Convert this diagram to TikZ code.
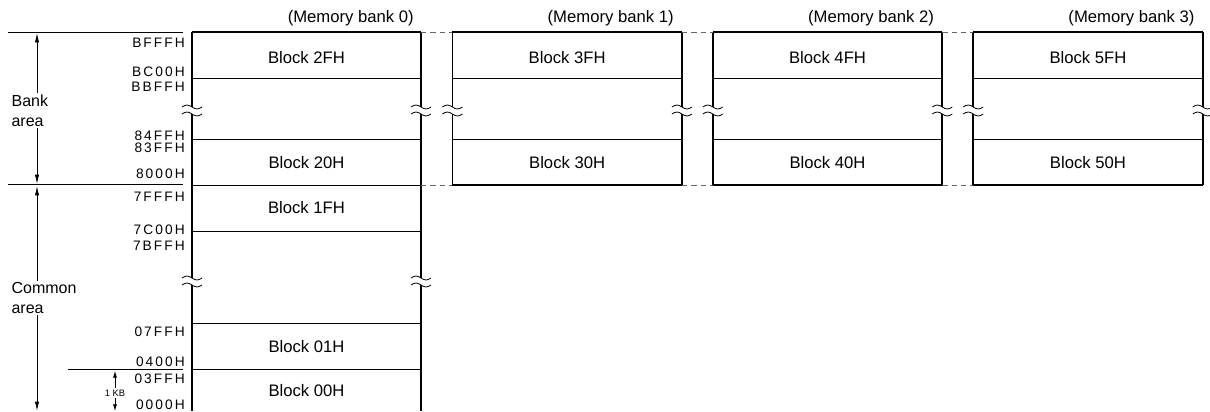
\documentclass[tikz,border=0pt]{standalone}
\usepackage{fontspec}
\setmainfont{Liberation Sans}
\newfontfamily\addrfont[LetterSpace=15]{Liberation Sans}
\usetikzlibrary{arrows.meta, positioning}

\tikzset{
    bankline/.style = {line width=1.3pt},
    rowline/.style = {line width=0.6pt},
    gapline/.style = {line width=0.7pt, dash pattern=on 4pt off 3pt, black!60},
    dimarrow/.style = {line width=0.6pt,
        {Latex[length=7pt,width=3.2pt]}-{Latex[length=7pt,width=3.2pt]}},
    blocklabel/.style = {inner sep=0pt, font=\fontsize{12.5}{14}\selectfont},
    banklabel/.style = {anchor=east, inner sep=0pt, font=\fontsize{12.5}{14}\selectfont},
    addr/.style = {anchor=east, inner sep=0pt, font=\addrfont\fontsize{10.3}{11}\selectfont},
    arealabel/.style = {anchor=west, fill=white, align=left, inner sep=1pt,
        font=\fontsize{12}{15}\selectfont},
    cut/.pic = {
        \draw[rowline] (-10,-3.5) sin (-5,-5.5) cos (0,-3.5) sin (5,-1.5) cos (10,-3.5)
                       (-10,3.5) sin (-5,1.5) cos (0,3.5) sin (5,5.5) cos (10,3.5);
    }
}

\begin{document}
\begin{tikzpicture}[x=0.75pt, y=-0.75pt]
    \useasboundingbox (0,0) rectangle (1210,411);

    % Bank 0 (bank area + common area)
    \coordinate (nw0) at (192,32);
    \coordinate (ne0) at (421,32);
    \coordinate (sw0) at (192,185);
    \coordinate (se0) at (421,185);
    \draw[bankline] (nw0) -- (ne0);
    \foreach \x in {192,421} {
        \draw[bankline] (\x,32) -- (\x,107) (\x,114) -- (\x,278) (\x,285) -- (\x,411);
        \pic at (\x,110.5) {cut};
        \pic at (\x,281.5) {cut};
    }
    \foreach \y in {78,139,185,231,323,369}
        \draw[rowline] (192,\y) -- (421,\y);
    \node (blk2F) [blocklabel] at (306.5,58) {Block 2FH};
    \node (blk20) [blocklabel] at (306.5,163) {Block 20H};
    \node (blk1F) [blocklabel] at (306.5,208) {Block 1FH};
    \node (blk01) [blocklabel] at (306.5,347) {Block 01H};
    \node (blk00) [blocklabel] at (306.5,391) {Block 00H};
    \node (hdr0) [banklabel] at (414,18) {(Memory bank 0)};

    % Banks 1 to 3
    \foreach \i/\hi/\lo in {1/3F/30, 2/4F/40, 3/5F/50} {
        \pgfmathsetmacro\xl{192+260.4*\i}
        \pgfmathsetmacro\xr{\xl+229.5}
        \coordinate (nw\i) at (\xl,32);
        \coordinate (ne\i) at (\xr,32);
        \coordinate (sw\i) at (\xl,185);
        \coordinate (se\i) at (\xr,185);
        \draw[bankline] (nw\i) -- (ne\i) (sw\i) -- (se\i);
        \foreach \x in {\xl,\xr} {
            \draw[bankline] (\x,32) -- (\x,107) (\x,114) -- (\x,185);
            \pic at (\x,110.5) {cut};
        }
        \draw[rowline] (\xl,78) -- (\xr,78) (\xl,139) -- (\xr,139);
        \node (blk\hi) [blocklabel] at ({(\xl+\xr)/2},58) {Block \hi H};
        \node (blk\lo) [blocklabel] at ({(\xl+\xr)/2},163) {Block \lo H};
        \node (hdr\i) [banklabel] at (\xr-8,18) {(Memory bank \i)};
    }

    % Dashed joins between banks
    \foreach \i/\j in {0/1, 1/2, 2/3}
        \draw[gapline] (ne\i) -- (nw\j) (se\i) -- (sw\j);

    % Addresses
    \foreach \y/\a in {43/BFFF, 72/BC00, 87/BBFF, 135.5/84FF, 148/83FF, 174/8000,
                       197/7FFF, 230/7C00, 246/7BFF, 332/07FF, 362/0400,
                       379/03FF, 405/0000}
        \node (adr\a) [addr] at (185,\y) {\a H};

    % Area marks
    \draw[rowline] (8,32) -- (183,32) (8,184.5) -- (183,184.5) (68,369) -- (183,369);
    \draw[dimarrow] (37,33) -- (37,184);
    \draw[dimarrow] (37,186) -- (37,411);
    \node (bank) [arealabel] at (10,110.5) {Bank\\area};
    \node (common) [arealabel] at (10,298) {Common\\area};
    \draw[line width=0.5pt,
        {Latex[length=5pt,width=3pt]}-{Latex[length=5pt,width=3pt]}] (115,371) -- (115,411);
    \node (kb) [fill=white, inner sep=1pt, font=\fontsize{7}{8}\selectfont] at (115,393) {1 KB};
\end{tikzpicture}
\end{document}
